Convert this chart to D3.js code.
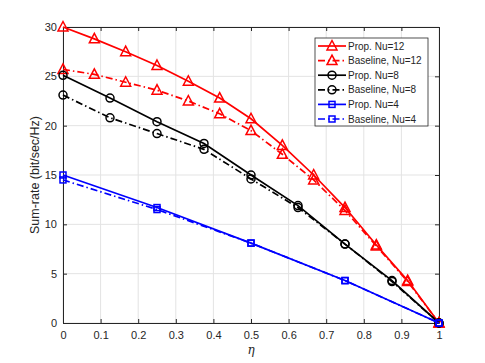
<!DOCTYPE html>
<html>
<head>
<meta charset="utf-8">
<script src="https://cdn.jsdelivr.net/npm/d3@7"></script>
<style>
  body { margin: 0; background: #fff; }
  text { font-family: "Liberation Sans", Arial, sans-serif; }
</style>
</head>
<body>
<figure id="chart" style="margin:0"></figure>
<script>
// data
var xNu12 = [0, 1/12, 2/12, 3/12, 4/12, 5/12, 6/12, 7/12, 8/12, 9/12, 10/12, 11/12, 1];
var propNu12 = [30, 28.8, 27.5, 26.1, 24.5, 22.8, 20.7, 18.0, 15.0, 11.7, 7.9, 4.3, 0];
var baseNu12 = [25.7, 25.2, 24.4, 23.6, 22.5, 21.2, 19.5, 17.1, 14.5, 11.4, 7.8, 4.2, 0];
var xNu8 = [0, 0.125, 0.25, 0.375, 0.5, 0.625, 0.75, 0.875, 1];
var propNu8 = [25.1, 22.8, 20.4, 18.2, 15.0, 11.9, 8.0, 4.3, 0];
var baseNu8 = [23.1, 20.8, 19.2, 17.6, 14.6, 11.7, 8.0, 4.2, 0];
var xNu4 = [0, 0.25, 0.5, 0.75, 1];
var propNu4 = [15.0, 11.7, 8.1, 4.3, 0];
var baseNu4 = [14.5, 11.5, 8.1, 4.3, 0];
var xTicks = [0, 0.1, 0.2, 0.3, 0.4, 0.5, 0.6, 0.7, 0.8, 0.9, 1];
var yTicks = [0, 5, 10, 15, 20, 25, 30];

var series = [
  {name: "Prop. Nu=12", x: xNu12, y: propNu12, color: "#ff0000", dash: null, marker: "tri"},
  {name: "Baseline, Nu=12", x: xNu12, y: baseNu12, color: "#ff0000", dash: "7,3,1.5,3", marker: "tri"},
  {name: "Prop. Nu=8", x: xNu8, y: propNu8, color: "#000000", dash: null, marker: "circ"},
  {name: "Baseline, Nu=8", x: xNu8, y: baseNu8, color: "#000000", dash: "7,3,1.5,3", marker: "circ"},
  {name: "Prop. Nu=4", x: xNu4, y: propNu4, color: "#0000ff", dash: null, marker: "sq"},
  {name: "Baseline, Nu=4", x: xNu4, y: baseNu4, color: "#0000ff", dash: "7,3,1.5,3", marker: "sq"}
];

var margin = {top: 27, right: 46, bottom: 40, left: 63},
    width = 485 - margin.left - margin.right,
    height = 363 - margin.top - margin.bottom;

var svg = d3.select("#chart").append("svg")
    .attr("width", 485).attr("height", 363)
  .append("g")
    .attr("transform", "translate(" + margin.left + "," + margin.top + ")");

var x = d3.scaleLinear().domain([0, 1]).range([0, width]);
var y = d3.scaleLinear().domain([0, 30]).range([height, 0]);

var axisCol = "#262626";

// grid
svg.append("g").selectAll("line").data(xTicks).enter().append("line")
  .attr("x1", function(d) { return x(d); }).attr("x2", function(d) { return x(d); })
  .attr("y1", 0).attr("y2", height)
  .attr("stroke", "#e3e3e3").attr("stroke-width", 1);
svg.append("g").selectAll("line").data(yTicks).enter().append("line")
  .attr("y1", function(d) { return y(d); }).attr("y2", function(d) { return y(d); })
  .attr("x1", 0).attr("x2", width)
  .attr("stroke", "#e3e3e3").attr("stroke-width", 1);

// axes (ticks inward, box on)
function styleAxis(g) {
  g.select(".domain").attr("stroke", axisCol);
  g.selectAll(".tick line").attr("stroke", axisCol);
  g.selectAll(".tick text").attr("fill", axisCol).style("font-size", "11px");
}
svg.append("g").attr("transform", "translate(0," + height + ")")
  .call(d3.axisBottom(x).tickValues(xTicks).tickSizeInner(-4).tickSizeOuter(0).tickPadding(8)
    .tickFormat(function(d) { return d === 0 || d === 1 ? d3.format("d")(d) : d3.format(".1f")(d); }))
  .call(styleAxis);
svg.append("g")
  .call(d3.axisLeft(y).tickValues(yTicks).tickSizeInner(-4).tickSizeOuter(0).tickPadding(6))
  .call(styleAxis);
svg.append("g")
  .call(d3.axisTop(x).tickValues(xTicks).tickSizeInner(-4).tickSizeOuter(0).tickFormat(""))
  .call(styleAxis);
svg.append("g").attr("transform", "translate(" + width + ",0)")
  .call(d3.axisRight(y).tickValues(yTicks).tickSizeInner(-4).tickSizeOuter(0).tickFormat(""))
  .call(styleAxis);

// axis labels
svg.append("text")
  .attr("transform", "translate(-24," + (height / 2) + ") rotate(-90)")
  .attr("text-anchor", "middle").attr("fill", axisCol).style("font-size", "12.5px")
  .text("Sum-rate (bit/sec/Hz)");
svg.append("text")
  .attr("x", width / 2).attr("y", height + 31)
  .attr("text-anchor", "middle").attr("fill", axisCol)
  .style("font-size", "12px").style("font-family", "'DejaVu Serif', serif").style("font-style", "italic")
  .text("η");

// markers
function drawMarker(g, type, color) {
  if (type === "tri") {
    g.append("path").attr("d", "M0,-5.5L5,4L-5,4Z");
  } else if (type === "circ") {
    g.append("circle").attr("r", 4);
  } else {
    g.append("rect").attr("x", -3).attr("y", -3).attr("width", 6).attr("height", 6);
  }
  g.selectAll("path,circle,rect").attr("fill", "none").attr("stroke", color).attr("stroke-width", 1.5);
}

var line = d3.line()
  .x(function(d) { return x(d[0]); })
  .y(function(d) { return y(d[1]); });

series.forEach(function(s) {
  var pts = s.x.map(function(v, i) { return [v, s.y[i]]; });
  svg.append("path").datum(pts)
    .attr("d", line)
    .attr("fill", "none").attr("stroke", s.color).attr("stroke-width", 1.7)
    .attr("stroke-dasharray", s.dash);
  svg.append("g").selectAll("g").data(pts).enter().append("g")
    .attr("transform", function(d) { return "translate(" + x(d[0]) + "," + y(d[1]) + ")"; })
    .each(function() { drawMarker(d3.select(this), s.marker, s.color); });
});

// legend
var lg = svg.append("g").attr("transform", "translate(" + (315 - margin.left) + "," + (38 - margin.top) + ")");
lg.append("rect").attr("width", 113).attr("height", 88)
  .attr("fill", "#fff").attr("stroke", axisCol).attr("stroke-width", 0.8);
series.forEach(function(s, i) {
  var row = lg.append("g").attr("transform", "translate(0," + (8 + i * 14.6) + ")");
  row.append("line").attr("x1", 3).attr("x2", 31).attr("y1", 0).attr("y2", 0)
    .attr("stroke", s.color).attr("stroke-width", 1.7).attr("stroke-dasharray", s.dash);
  var m = row.append("g").attr("transform", "translate(17,0)");
  drawMarker(m, s.marker, s.color);
  row.append("text").attr("x", 33).attr("y", 3.5)
    .attr("fill", axisCol).style("font-size", "10px").text(s.name);
});
</script>
</body>
</html>
